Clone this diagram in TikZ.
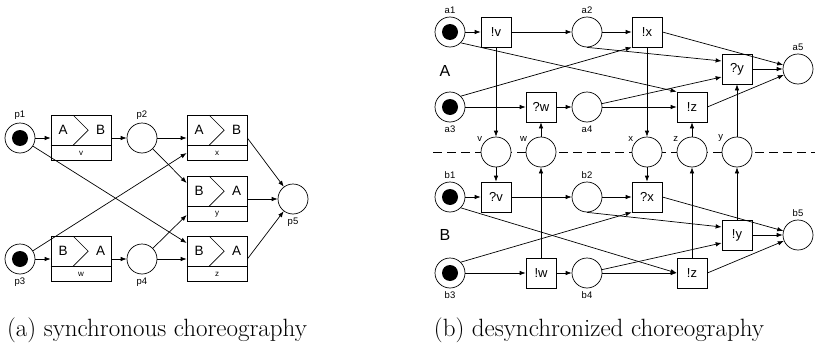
\documentclass[tikz,border=0pt]{standalone}
\usepackage{fontspec}
\newfontfamily\diafont{Liberation Sans}
\usetikzlibrary{arrows.meta}

\begin{document}
\begin{tikzpicture}[x=1pt,y=-1pt,line width=0.7pt,
            place/.style={circle,draw,fill=white,minimum size=30pt,inner sep=0pt},
            token/.style={place,path picture={\fill[black] (path picture bounding box.center) circle (8pt);}},
            trans/.style={draw,fill=white,minimum size=30pt,inner sep=0pt,font=\diafont\fontsize{13}{13}\selectfont},
            ltrans/.style={draw,fill=white,minimum width=60pt,minimum height=45pt,inner sep=0pt},
            arc/.style={-{Latex[length=6pt,width=4.5pt]}},
            every label/.style={font=\diafont\fontsize{9.5}{10}\selectfont,inner sep=1pt},
            lab/.style={label distance=2pt},
            caption/.style={font=\fontsize{25}{28}\selectfont,anchor=base}]

            \useasboundingbox (0,0) rectangle (815,343);

            % (a) synchronous
            \node[token,label={[lab]above:p1}] (p1) at (20,138) {};
            \node[ltrans] (lv) at (81,138) {};
            \node[place,label={[lab]above:p2}] (p2) at (142,138) {};
            \node[ltrans] (lx) at (217,138) {};
            \node[ltrans] (ly) at (217,199) {};
            \node[ltrans] (lz) at (217,259) {};
            \node[place,label={[lab]below:p5}] (p5) at (293,199) {};
            \node[token,label={[lab]below:p3}] (p3) at (20,259) {};
            \node[ltrans] (lw) at (81,259) {};
            \node[place,label={[lab]below:p4}] (p4) at (142,259) {};

            \foreach \n/\l/\r/\t in {lv/A/B/v, lx/A/B/x, ly/B/A/y, lz/B/A/z, lw/B/A/w} {
                \draw ([yshift=-7.5pt]\n.west) -- ([yshift=-7.5pt]\n.east);
                \draw ([xshift=22.5pt]\n.north west) -- ([xshift=37.5pt,yshift=-15pt]\n.north west)
                    -- ([xshift=22.5pt,yshift=-30pt]\n.north west);
                \node[font=\diafont\fontsize{13.5}{14}\selectfont] (\n-l) at ([xshift=12.5pt,yshift=-15pt]\n.north west) {\l};
                \node[font=\diafont\fontsize{13.5}{14}\selectfont] (\n-r) at ([xshift=50pt,yshift=-15pt]\n.north west) {\r};
                \node[font=\diafont\fontsize{8}{8}\selectfont] (\n-t) at ([yshift=7.5pt]\n.south) {\t};
            }

            \draw[arc] (p1) -- (lv);
            \draw[arc] (lv) -- (p2);
            \draw[arc] (p2) -- (lx);
            \draw[arc] (p2) -- ([yshift=16pt]ly.west);
            \draw[arc] (p1) -- ([yshift=16pt]lz.west);
            \draw[arc] (p3) -- ([yshift=-15pt]lx.west);
            \draw[arc] (p4) -- ([yshift=-16pt]ly.west);
            \draw[arc] (p3) -- (lw);
            \draw[arc] (lw) -- (p4);
            \draw[arc] (p4) -- (lz);
            \draw[arc] (lx.east) -- (p5);
            \draw[arc] (ly) -- (p5);
            \draw[arc] (lz.east) -- (p5);

            % (b) desynchronized
            \coordinate (sepL) at (433,152);
            \coordinate (sepR) at (815,152);
            \draw[dash pattern=on 9pt off 5pt] (sepL) -- (sepR);

            \node[font=\diafont\fontsize{16}{16}\selectfont] (peerA) at (445,71) {A};
            \node[font=\diafont\fontsize{16}{16}\selectfont] (peerB) at (445,235) {B};

            \node[token,label={[lab]above:a1}] (a1) at (450,32) {};
            \node[trans] (av) at (496,32) {!v};
            \node[place,label={[lab]above:a2}] (a2) at (587,32) {};
            \node[trans] (ax) at (647,32) {!x};
            \node[place,label={[lab]above:a5}] (a5) at (798,69) {};
            \node[trans] (ay) at (737,69) {?y};
            \node[token,label={[lab]below:a3}] (a3) at (450,107) {};
            \node[trans] (aw) at (541,107) {?w};
            \node[place,label={[lab]below:a4}] (a4) at (587,107) {};
            \node[trans] (az) at (692,107) {!z};

            \node[place,label={145:v}] (cv) at (496,152) {};
            \node[place,label={145:w}] (cw) at (541,152) {};
            \node[place,label={145:x}] (cx) at (647,152) {};
            \node[place,label={145:z}] (cz) at (692,152) {};
            \node[place,label={145:y}] (cy) at (737,152) {};

            \node[token,label={[lab]above:b1}] (b1) at (450,197) {};
            \node[trans] (bv) at (496,197) {?v};
            \node[place,label={[lab]above:b2}] (b2) at (587,197) {};
            \node[trans] (bx) at (647,197) {?x};
            \node[place,label={[lab]above:b5}] (b5) at (798,235) {};
            \node[trans] (by) at (737,235) {!y};
            \node[token,label={[lab]below:b3}] (b3) at (450,273) {};
            \node[trans] (bw) at (541,273) {!w};
            \node[place,label={[lab]below:b4}] (b4) at (587,273) {};
            \node[trans] (bz) at (692,273) {!z};

            \draw[arc] (a1) -- (av);
            \draw[arc] (av) -- (a2);
            \draw[arc] (a2) -- (ax);
            \draw[arc] (ax.east) -- (a5);
            \draw[arc] (a2.south) -- ([yshift=8pt]ay.west);
            \draw[arc] (a3.north east) -- (ax.south west);
            \draw[arc] (a1.south east) -- (az.north west);
            \draw[arc] (a3) -- (aw);
            \draw[arc] (aw) -- (a4);
            \draw[arc] (a4) -- (az);
            \draw[arc] (a4) -- ([yshift=-8pt]ay.west);
            \draw[arc] (az.east) -- (a5);
            \draw[arc] (ay) -- (a5);
            \draw[arc] (av) -- (cv);
            \draw[arc] (cw) -- (aw);
            \draw[arc] (ax) -- (cx);
            \draw[arc] (cz) -- (az);
            \draw[arc] (cy) -- (ay);

            \draw[arc] (b1) -- (bv);
            \draw[arc] (bv) -- (b2);
            \draw[arc] (b2) -- (bx);
            \draw[arc] (bx.east) -- (b5);
            \draw[arc] (b2.south) -- ([yshift=8pt]by.west);
            \draw[arc] (b3.north east) -- (bx.south west);
            \draw[arc] (b1.south east) -- (bz.west);
            \draw[arc] (b3) -- (bw);
            \draw[arc] (bw) -- (b4);
            \draw[arc] (b4) -- (bz);
            \draw[arc] (b4) -- ([yshift=-8pt]by.west);
            \draw[arc] (bz.east) -- (b5);
            \draw[arc] (by) -- (b5);
            \draw[arc] (cv) -- (bv);
            \draw[arc] (bw) -- (cw);
            \draw[arc] (cx) -- (bx);
            \draw[arc] (bz) -- (cz);
            \draw[arc] (by) -- (cy);

            \node[caption] (capa) at (157,336) {(a) synchronous choreography};
            \node[caption] (capb) at (599,336) {(b) desynchronized choreography};
        \end{tikzpicture}
\end{document}
